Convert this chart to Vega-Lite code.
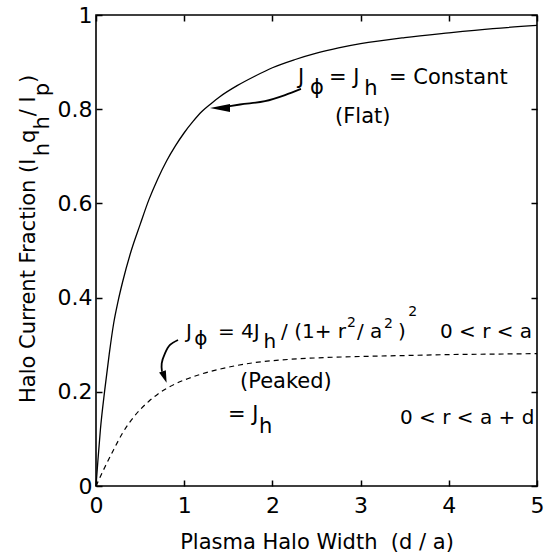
{
  "$schema": "https://vega.github.io/schema/vega-lite/v6.json",
  "width": 441,
  "height": 471,
  "autosize": {"type": "none"},
  "padding": {"left": 96, "top": 15, "right": 12, "bottom": 70},
  "background": "white",
  "config": {
    "font": "DejaVu Sans",
    "view": {"stroke": "#000", "strokeWidth": 1.6},
    "axis": {
      "labelFont": "DejaVu Sans",
      "labelFontSize": 22,
      "labelColor": "#000",
      "tickColor": "#000",
      "tickWidth": 1.5,
      "tickSize": -6,
      "domain": false,
      "grid": false,
      "titleFont": "DejaVu Sans",
      "titleFontSize": 21,
      "titleColor": "#000",
      "titleFontWeight": "normal"
    }
  },
  "datasets": {
    "flat": [
      {"x": 0, "y": 0}, {"x": 0.02, "y": 0.05}, {"x": 0.05, "y": 0.12}, {"x": 0.1, "y": 0.205},
      {"x": 0.15, "y": 0.28}, {"x": 0.2, "y": 0.345}, {"x": 0.25, "y": 0.392}, {"x": 0.3, "y": 0.432},
      {"x": 0.4, "y": 0.5}, {"x": 0.5, "y": 0.555}, {"x": 0.6, "y": 0.608}, {"x": 0.7, "y": 0.652},
      {"x": 0.8, "y": 0.69}, {"x": 0.9, "y": 0.722}, {"x": 1.0, "y": 0.75}, {"x": 1.1, "y": 0.774},
      {"x": 1.2, "y": 0.795}, {"x": 1.3, "y": 0.811}, {"x": 1.4, "y": 0.826}, {"x": 1.6, "y": 0.85},
      {"x": 1.8, "y": 0.87}, {"x": 2.0, "y": 0.888}, {"x": 2.25, "y": 0.905}, {"x": 2.5, "y": 0.919},
      {"x": 2.75, "y": 0.93}, {"x": 3.0, "y": 0.939}, {"x": 3.5, "y": 0.952}, {"x": 4.0, "y": 0.962},
      {"x": 4.5, "y": 0.971}, {"x": 5.0, "y": 0.978}
    ],
    "peaked": [
      {"x": 0, "y": 0}, {"x": 0.1, "y": 0.04}, {"x": 0.2, "y": 0.077}, {"x": 0.3, "y": 0.112},
      {"x": 0.4, "y": 0.14}, {"x": 0.5, "y": 0.162}, {"x": 0.6, "y": 0.18}, {"x": 0.7, "y": 0.195},
      {"x": 0.8, "y": 0.207}, {"x": 0.9, "y": 0.217}, {"x": 1.0, "y": 0.225}, {"x": 1.2, "y": 0.238},
      {"x": 1.4, "y": 0.248}, {"x": 1.6, "y": 0.256}, {"x": 1.8, "y": 0.262}, {"x": 2.0, "y": 0.266},
      {"x": 2.5, "y": 0.272}, {"x": 3.0, "y": 0.275}, {"x": 3.5, "y": 0.277}, {"x": 4.0, "y": 0.279},
      {"x": 4.5, "y": 0.28}, {"x": 5.0, "y": 0.281}
    ],
    "arrow1": [
      {"i": 0, "x": 2.324, "y": 0.843}, {"i": 1, "x": 2.143, "y": 0.830}, {"i": 2, "x": 1.916, "y": 0.817},
      {"i": 3, "x": 1.633, "y": 0.810}, {"i": 4, "x": 1.5, "y": 0.806}
    ],
    "arrow2": [
      {"i": 0, "x": 0.930, "y": 0.310}, {"i": 1, "x": 0.839, "y": 0.2994}, {"i": 2, "x": 0.782, "y": 0.2817},
      {"i": 3, "x": 0.745, "y": 0.2605}, {"i": 4, "x": 0.748, "y": 0.2427}
    ],
    "head1": [{"x": 1.406, "y": 0.8025}],
    "head2": [{"x": 0.777, "y": 0.2314}],
    "txt21": [
      {"x": 2.290, "y": 0.8535, "t": "J"},
      {"x": 2.425, "y": 0.832, "t": "ϕ"},
      {"x": 2.642, "y": 0.8535, "t": "= J"},
      {"x": 3.040, "y": 0.830, "t": "h"},
      {"x": 3.322, "y": 0.8535, "t": "= Constant"},
      {"x": 2.710, "y": 0.771, "t": "(Flat)"},
      {"x": 1.633, "y": 0.208, "t": "(Peaked)"},
      {"x": 1.497, "y": 0.138, "t": "= J"},
      {"x": 1.848, "y": 0.1125, "t": "h"}
    ],
    "txt20": [
      {"x": 1.020, "y": 0.3142, "t": "J"},
      {"x": 1.115, "y": 0.2994, "t": "ϕ"},
      {"x": 1.383, "y": 0.3142, "t": "= 4J"},
      {"x": 1.900, "y": 0.2930, "t": "h"},
      {"x": 2.098, "y": 0.3142, "t": "/ (1+ r"},
      {"x": 2.959, "y": 0.3142, "t": "/ a"},
      {"x": 3.424, "y": 0.3142, "t": ")"},
      {"x": 3.900, "y": 0.3142, "t": "0 < r < a"},
      {"x": 3.447, "y": 0.1316, "t": "0 < r < a + d"}
    ],
    "sup": [
      {"x": 2.846, "y": 0.3376, "t": "2"},
      {"x": 3.265, "y": 0.3355, "t": "2"},
      {"x": 3.540, "y": 0.3600, "t": "2"}
    ],
    "ytitle": [
      {"x": -0.6916, "y": 0.1762, "t": "Halo Current Fraction (I"},
      {"x": -0.5329, "y": 0.7002, "t": "h"},
      {"x": -0.6916, "y": 0.7285, "t": "q"},
      {"x": -0.5329, "y": 0.7567, "t": "h"},
      {"x": -0.6916, "y": 0.7849, "t": "/ I"},
      {"x": -0.5329, "y": 0.8274, "t": "p"},
      {"x": -0.6916, "y": 0.8556, "t": ")"}
    ]
  },
  "layer": [
    {
      "data": {"name": "flat"},
      "mark": {"type": "line", "color": "#000", "strokeWidth": 1.3, "interpolate": "monotone"},
      "encoding": {
        "x": {"field": "x", "type": "quantitative", "scale": {"domain": [0, 5], "nice": false},
          "axis": {"orient": "bottom", "values": [0, 1, 2, 3, 4, 5], "format": "~g", "labelFlush": false,
            "labelPadding": 15, "title": "Plasma Halo Width\u00a0 (d / a)", "titleY": 62.5, "titleBaseline": "alphabetic"}},
        "y": {"field": "y", "type": "quantitative", "scale": {"domain": [0, 1], "nice": false},
          "axis": {"orient": "left", "values": [0, 0.2, 0.4, 0.6, 0.8, 1], "format": "~g", "labelFlush": false,
            "labelPadding": 10, "title": null}}
      }
    },
    {
      "data": {"name": "peaked"},
      "mark": {"type": "line", "color": "#000", "strokeWidth": 1.2, "strokeDash": [5, 4], "interpolate": "monotone"},
      "encoding": {
        "x": {"field": "x", "type": "quantitative", "scale": {"domain": [0, 5], "nice": false},
          "axis": {"orient": "top", "values": [0, 1, 2, 3, 4, 5], "labels": false, "title": null}},
        "y": {"field": "y", "type": "quantitative", "scale": {"domain": [0, 1], "nice": false},
          "axis": {"orient": "right", "values": [0, 0.2, 0.4, 0.6, 0.8, 1], "labels": false, "title": null}}
      }
    },
    {
      "data": {"name": "arrow1"},
      "mark": {"type": "line", "color": "#000", "strokeWidth": 1.8, "interpolate": "monotone"},
      "encoding": {
        "x": {"field": "x", "type": "quantitative", "scale": {"domain": [0, 5], "nice": false}, "axis": null},
        "y": {"field": "y", "type": "quantitative", "scale": {"domain": [0, 1], "nice": false}, "axis": null},
        "order": {"field": "i", "type": "quantitative"}
      }
    },
    {
      "data": {"name": "arrow2"},
      "mark": {"type": "line", "color": "#000", "strokeWidth": 1.8, "interpolate": "catmull-rom"},
      "encoding": {
        "x": {"field": "x", "type": "quantitative", "scale": {"domain": [0, 5], "nice": false}, "axis": null},
        "y": {"field": "y", "type": "quantitative", "scale": {"domain": [0, 1], "nice": false}, "axis": null},
        "order": {"field": "i", "type": "quantitative"}
      }
    },
    {
      "data": {"name": "head1"},
      "mark": {"type": "point", "shape": "M-1,0L1,-0.4L1,0.4Z", "size": 400, "filled": true, "color": "#000", "opacity": 1},
      "encoding": {
        "x": {"field": "x", "type": "quantitative", "scale": {"domain": [0, 5], "nice": false}, "axis": null},
        "y": {"field": "y", "type": "quantitative", "scale": {"domain": [0, 1], "nice": false}, "axis": null}
      }
    },
    {
      "data": {"name": "head2"},
      "mark": {"type": "point", "shape": "M0,1L-0.6,-1L0.6,-1Z", "size": 144, "angle": -20, "filled": true, "color": "#000", "opacity": 1},
      "encoding": {
        "x": {"field": "x", "type": "quantitative", "scale": {"domain": [0, 5], "nice": false}, "axis": null},
        "y": {"field": "y", "type": "quantitative", "scale": {"domain": [0, 1], "nice": false}, "axis": null}
      }
    },
    {
      "data": {"name": "txt21"},
      "mark": {"type": "text", "font": "DejaVu Sans", "fontSize": 21, "align": "left", "baseline": "alphabetic", "color": "#000"},
      "encoding": {
        "x": {"field": "x", "type": "quantitative", "scale": {"domain": [0, 5], "nice": false}, "axis": null},
        "y": {"field": "y", "type": "quantitative", "scale": {"domain": [0, 1], "nice": false}, "axis": null},
        "text": {"field": "t"}
      }
    },
    {
      "data": {"name": "txt20"},
      "mark": {"type": "text", "font": "DejaVu Sans", "fontSize": 20, "align": "left", "baseline": "alphabetic", "color": "#000"},
      "encoding": {
        "x": {"field": "x", "type": "quantitative", "scale": {"domain": [0, 5], "nice": false}, "axis": null},
        "y": {"field": "y", "type": "quantitative", "scale": {"domain": [0, 1], "nice": false}, "axis": null},
        "text": {"field": "t"}
      }
    },
    {
      "data": {"name": "sup"},
      "mark": {"type": "text", "font": "DejaVu Sans", "fontSize": 14, "align": "left", "baseline": "alphabetic", "color": "#000"},
      "encoding": {
        "x": {"field": "x", "type": "quantitative", "scale": {"domain": [0, 5], "nice": false}, "axis": null},
        "y": {"field": "y", "type": "quantitative", "scale": {"domain": [0, 1], "nice": false}, "axis": null},
        "text": {"field": "t"}
      }
    },
    {
      "data": {"name": "ytitle"},
      "mark": {"type": "text", "font": "DejaVu Sans", "fontSize": 21, "align": "left", "baseline": "alphabetic", "angle": 270, "color": "#000"},
      "encoding": {
        "x": {"field": "x", "type": "quantitative", "scale": {"domain": [0, 5], "nice": false}, "axis": null},
        "y": {"field": "y", "type": "quantitative", "scale": {"domain": [0, 1], "nice": false}, "axis": null},
        "text": {"field": "t"}
      }
    }
  ]
}
